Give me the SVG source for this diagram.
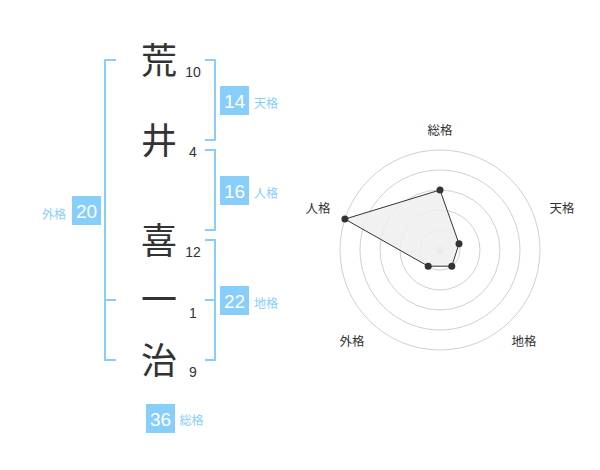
<svg xmlns="http://www.w3.org/2000/svg" width="600" height="470" viewBox="0 0 600 470">
<style>
.ch{font-family:"Noto Sans CJK JP","Noto Sans CJK SC",sans-serif;font-size:36px;fill:#333;text-anchor:middle}
.st{font-family:"Liberation Sans",Arial,sans-serif;font-size:14px;fill:#333;text-anchor:middle}
.br{fill:none;stroke:#87cefa;stroke-width:2}
.box{fill:#87cefa}
.bn{font-family:"Liberation Sans",Arial,sans-serif;font-size:19px;fill:#fff;text-anchor:middle}
.bl{font-family:"Noto Sans CJK JP","Noto Sans CJK SC",sans-serif;font-size:12px;fill:#87cefa}
.ring{fill:none;stroke:#d0d0d0;stroke-width:1}
.rl{font-family:"Noto Sans CJK JP","Noto Sans CJK SC",sans-serif;font-size:12.5px;fill:#333;text-anchor:middle}
.pt{fill:#333}
</style>
<rect width="600" height="470" fill="#fff"/>
<g id="name">
<text class="ch" x="159" y="74">荒</text>
<text class="ch" x="159" y="154">井</text>
<text class="ch" x="159" y="254">喜</text>
<text class="ch" x="159" y="313">一</text>
<text class="ch" x="159" y="374">治</text>
</g>
<g id="strokes">
<text class="st" x="193" y="77">10</text>
<text class="st" x="193" y="157">4</text>
<text class="st" x="193" y="257">12</text>
<text class="st" x="193" y="318">1</text>
<text class="st" x="193" y="377">9</text>
</g>
<g id="connectors">
<path class="br" d="M205,60 H215 V140 H205"/>
<path class="br" d="M205,150 H215 V230 H205"/>
<path class="br" d="M205,240 H215 V360 H205 M205,300 H215"/>
<path class="br" d="M116,60 H105 V360 H116 M105,300 H116"/>
</g>
<g id="tenkaku">
<rect class="box" x="220" y="86" width="29" height="29"/>
<text class="bn" x="234.5" y="108">14</text>
<text class="bl" x="254" y="108">天格</text>
</g>
<g id="jinkaku">
<rect class="box" x="220" y="176" width="29" height="29"/>
<text class="bn" x="234.5" y="198">16</text>
<text class="bl" x="254" y="198">人格</text>
</g>
<g id="chikaku">
<rect class="box" x="220" y="286" width="29" height="29"/>
<text class="bn" x="234.5" y="308">22</text>
<text class="bl" x="254" y="308">地格</text>
</g>
<g id="gaikaku">
<rect class="box" x="72" y="196" width="29" height="29"/>
<text class="bn" x="86.5" y="218">20</text>
<text class="bl" x="66" y="218.5" text-anchor="end">外格</text>
</g>
<g id="soukaku">
<rect class="box" x="146" y="404" width="29" height="29"/>
<text class="bn" x="160.5" y="426">36</text>
<text class="bl" x="179.5" y="424.5">総格</text>
</g>
<g id="radar">
<circle class="ring" cx="440" cy="250" r="20"/>
<circle class="ring" cx="440" cy="250" r="40"/>
<circle class="ring" cx="440" cy="250" r="60"/>
<circle class="ring" cx="440" cy="250" r="80"/>
<circle class="ring" cx="440" cy="250" r="100"/>
<circle cx="440" cy="250" r="3.5" fill="#ccc"/>
<polygon points="440,190 459,243.8 451.8,266.2 428.2,266.2 344.9,219.1" fill="#efefef" fill-opacity="0.85" stroke="#333" stroke-width="1"/>
<circle class="pt" cx="440" cy="190" r="3.5"/>
<circle class="pt" cx="459" cy="243.8" r="3.5"/>
<circle class="pt" cx="451.8" cy="266.2" r="3.5"/>
<circle class="pt" cx="428.2" cy="266.2" r="3.5"/>
<circle class="pt" cx="344.9" cy="219.1" r="3.5"/>
<text class="rl" x="440" y="134.5">総格</text>
<text class="rl" x="562" y="212.5">天格</text>
<text class="rl" x="524" y="346">地格</text>
<text class="rl" x="352" y="346">外格</text>
<text class="rl" x="318" y="212.5">人格</text>
</g>
</svg>
